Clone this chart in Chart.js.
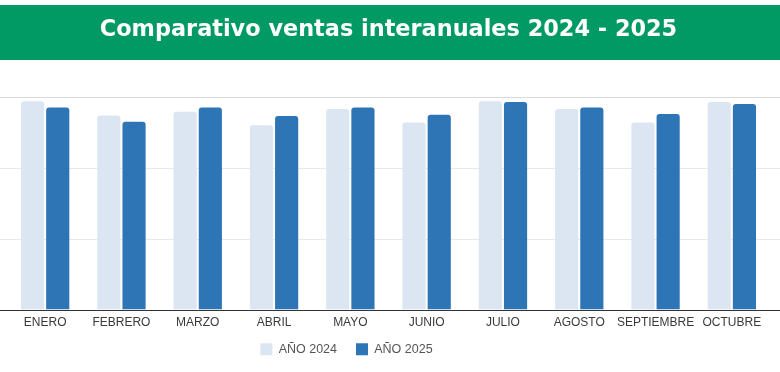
<!DOCTYPE html>
<html lang="es">
<head>
<meta charset="utf-8">
<title>Comparativo ventas interanuales 2024 - 2025</title>
<script src="https://cdn.jsdelivr.net/npm/chart.js@4.4.1/dist/chart.umd.min.js"></script>
<style>
  html, body { margin: 0; padding: 0; background: #fff; }
  #wrap { width: 780px; height: 372px; position: relative; }
</style>
</head>
<body>
<div id="wrap"><canvas id="ventasChart"></canvas></div>
<script>
const meses = ['ENERO', 'FEBRERO', 'MARZO', 'ABRIL', 'MAYO', 'JUNIO', 'JULIO', 'AGOSTO', 'SEPTIEMBRE', 'OCTUBRE'];
const ventas2024 = [294, 274, 279, 260, 283, 264, 294, 283, 264, 293];
const ventas2025 = [285, 265, 285, 273, 285, 275, 293, 285, 276, 290];
const yMax = 300;
const yStep = 100;

// green band behind the title
const headerBand = {
  id: 'headerBand',
  beforeDraw(chart) {
    const { ctx, width } = chart;
    ctx.save();
    ctx.fillStyle = '#019a64';
    ctx.fillRect(0, 5, width, 55);
    ctx.restore();
  }
};

// grid lines that run the full canvas width, like the original
const fullGrid = {
  id: 'fullGrid',
  beforeDatasetsDraw(chart) {
    const { ctx, width, scales: { y } } = chart;
    ctx.save();
    ctx.lineWidth = 1;
    y.ticks.forEach(t => {
      if (t.value === 0) return;
      const py = Math.round(y.getPixelForValue(t.value)) + 0.5;
      ctx.strokeStyle = t.value === yMax ? '#d9d9d9' : '#e8e8e8';
      ctx.beginPath();
      ctx.moveTo(0, py);
      ctx.lineTo(width, py);
      ctx.stroke();
    });
    ctx.restore();
  },
  afterDatasetsDraw(chart) {
    const { ctx, width, scales: { y } } = chart;
    const py = Math.round(y.getPixelForValue(0)) + 0.5;
    ctx.save();
    ctx.strokeStyle = '#333333';
    ctx.lineWidth = 1;
    ctx.beginPath();
    ctx.moveTo(0, py);
    ctx.lineTo(width, py);
    ctx.stroke();
    ctx.restore();
  }
};

// nudge the legend to where the original has it
const legendShift = {
  id: 'legendShift',
  afterUpdate(chart) {
    const lg = chart.legend;
    if (!lg) return;
    const dx = -42, dy = -12;
    lg.left += dx; lg.right += dx;
    lg.top += dy; lg.bottom += dy;
  }
};

const ctx = document.getElementById('ventasChart').getContext('2d');
const ventasChart = new Chart(ctx, {
  type: 'bar',
  data: {
    labels: meses,
    datasets: [
      {
        label: 'AÑO 2024',
        data: ventas2024,
        backgroundColor: '#dce6f2',
        borderRadius: { topLeft: 3, topRight: 3 },
        borderSkipped: 'start',
        barPercentage: 0.92,
        categoryPercentage: 0.66
      },
      {
        label: 'AÑO 2025',
        data: ventas2025,
        backgroundColor: '#2e75b6',
        borderRadius: { topLeft: 3, topRight: 3 },
        borderSkipped: 'start',
        barPercentage: 0.92,
        categoryPercentage: 0.66
      }
    ]
  },
  options: {
    responsive: true,
    maintainAspectRatio: false,
    animation: false,
    layout: { padding: { top: 0, left: 7, right: 10, bottom: 0 } },
    scales: {
      x: {
        grid: { display: false, drawTicks: false },
        border: { display: false },
        ticks: {
          color: '#3a3a3a',
          font: { family: '"Liberation Sans", Arial, sans-serif', size: 12 },
          padding: 6,
          maxRotation: 0,
          autoSkip: false
        }
      },
      y: {
        display: false,
        min: 0,
        max: yMax,
        ticks: { stepSize: yStep }
      }
    },
    plugins: {
      title: {
        display: true,
        text: 'Comparativo ventas interanuales 2024 - 2025',
        color: '#ffffff',
        font: { family: '"DejaVu Sans", Lato, sans-serif', size: 22.4, weight: 'bold', lineHeight: 1.2 },
        padding: { top: 16.5, bottom: 53.6 }
      },
      legend: {
        position: 'bottom',
        maxHeight: 36,
        labels: {
          color: '#555555',
          font: { family: '"Liberation Sans", Arial, sans-serif', size: 12.5 },
          boxWidth: 12,
          boxHeight: 12,
          padding: 19
        }
      },
      tooltip: { enabled: true }
    }
  },
  plugins: [headerBand, fullGrid, legendShift]
});

window.ventasChart = ventasChart;
</script>
</body>
</html>
